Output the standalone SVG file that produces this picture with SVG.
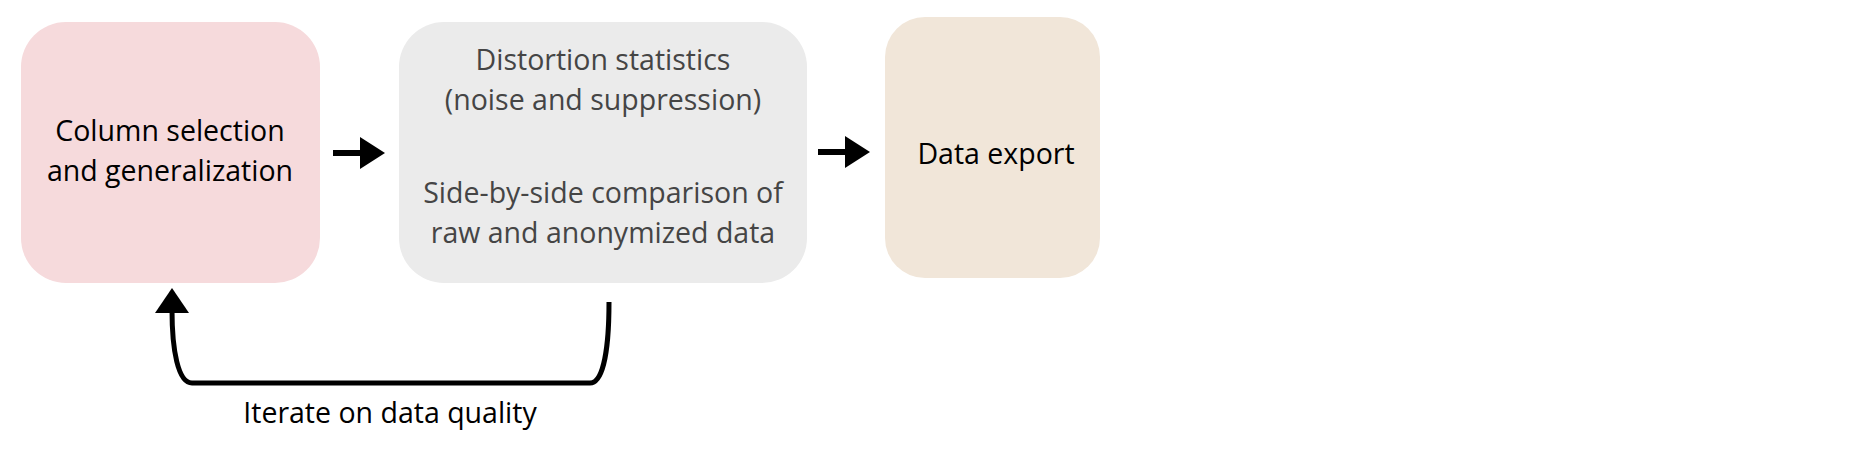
<svg xmlns="http://www.w3.org/2000/svg" width="1852" height="453" viewBox="0 0 1852 453">
<style>
  .t { font-family: "Open Sans", "Noto Sans", sans-serif; font-size: 28.5px; text-anchor: middle; }
  .dark { fill: #000000; }
  .grey { fill: #454545; }
  .conn { fill: none; stroke: #000; }
</style>
<rect width="1852" height="453" fill="#ffffff"/>
<g id="node-column-selection">
  <rect x="21" y="22" width="299" height="261" rx="45" ry="45" fill="#F6DADC"/>
  <text class="t dark" x="170" y="141">Column selection</text>
  <text class="t dark" x="170" y="181">and generalization</text>
</g>
<g id="node-distortion">
  <rect x="399" y="22" width="408" height="261" rx="45" ry="45" fill="#EBEBEB"/>
  <text class="t grey" x="603" y="70">Distortion statistics</text>
  <text class="t grey" x="603" y="110">(noise and suppression)</text>
  <text class="t grey" x="603" y="203">Side-by-side comparison of</text>
  <text class="t grey" x="603" y="243">raw and anonymized data</text>
</g>
<g id="node-export">
  <rect x="885" y="17" width="215" height="261" rx="40" ry="40" fill="#F1E6D9"/>
  <text class="t dark" x="996" y="164">Data export</text>
</g>
<g id="connectors">
  <line class="conn" x1="333" y1="153" x2="362" y2="153" stroke-width="6"/>
  <polygon points="360,137 385,153 360,169" fill="#000"/>
  <line class="conn" x1="818" y1="152" x2="847" y2="152" stroke-width="6"/>
  <polygon points="845,136 870,152 845,168" fill="#000"/>
  <path class="conn" stroke-width="5" d="M 609 302 C 609 345 604 383 590 383 L 192 383 C 178 383 172 350 172 310"/>
  <polygon points="172,288 155,313 189,313" fill="#000"/>
  <text class="t dark" x="390" y="423">Iterate on data quality</text>
</g>
</svg>
